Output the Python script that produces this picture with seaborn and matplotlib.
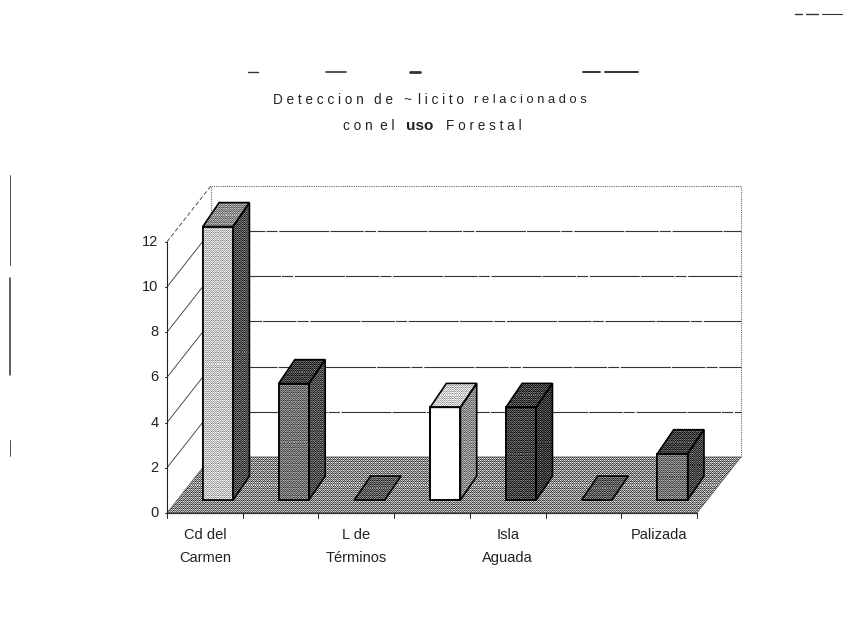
import numpy as np
import pandas as pd
import matplotlib.pyplot as plt
from matplotlib.colors import to_rgb
from matplotlib.patches import Polygon
from matplotlib.lines import Line2D
import seaborn as sns

# Values
positions = [0, 1, 2, 3, 4, 5, 6]
values = [12.1, 5.15, 0, 4.1, 4.1, 0, 2.05]
tick_labels = ['Cd del\nCarmen', '', 'L de\nTérminos', '', 'Isla\nAguada', '', 'Palizada']
y_ticks = [0, 2, 4, 6, 8, 10, 12]

front_colors = ['#c6c6c6', '#747474', '#5c5c5c', '#ffffff', '#444444', '#5c5c5c', '#747474']
side_colors = ['#505050', '#505050', '#5c5c5c', '#8c8c8c', '#383838', '#5c5c5c', '#484848']
top_colors = ['#8c8c8c', '#404040', '#5c5c5c', '#cccccc', '#404040', '#5c5c5c', '#404040']
floor_color = '#8a8a8a'

W, H = 849, 618
sns.set_theme(style='white')
plt.rcParams['font.family'] = ['Liberation Sans', 'DejaVu Sans']

fig = plt.figure(figsize=(W / 100, H / 100), dpi=100)
ax = fig.add_axes([167 / W, (H - 513) / H, 530 / W, 271 / H])

df = pd.DataFrame({'pos': positions, 'value': values})
sns.barplot(data=df, x='pos', y='value', hue='pos', palette=front_colors, width=0.4,
            legend=False, saturation=1, edgecolor='black', linewidth=1.2, ax=ax, zorder=3.5)

# front plane sits below and left of the plane of the bars
x0, x1 = -0.673, 6.323
y0, y1 = -0.575, 11.416
ax.set_xlim(x0, x1)
ax.set_ylim(y0, y1)
ax.set_autoscale_on(False)
sns.despine(ax=ax, left=True, bottom=True)
ax.set_xlabel('')
ax.set_ylabel('')
ax.set_xticks([])
ax.set_yticks([])

# depth of the bars and of the chart box, in data units
bar_dx, bar_dy = 0.215, 1.06
wall_dx, wall_dy = 0.581, 2.48
top_value = 12 + y0 + wall_dy

# ordered dither, the scan shows the greys as halftone
BAYER = np.array([[0, 8, 2, 10], [12, 4, 14, 6], [3, 11, 1, 9], [15, 7, 13, 5]]) / 15 - 0.5


def poly(points, color, lw=1.0, edge='black', z=4, grain=0.5):
    points = np.array(points)
    outline = Polygon(points, closed=True, facecolor='none', edgecolor=edge, linewidth=lw,
                      clip_on=False, zorder=z + 0.1)
    ax.add_patch(outline)
    if color is None:
        return
    level = to_rgb(color)[0]
    px = ax.transData.transform(points)
    nx = int(np.ceil(px[:, 0].max() - px[:, 0].min())) + 1
    ny = int(np.ceil(px[:, 1].max() - px[:, 1].min())) + 1
    tiled = np.tile(BAYER, (ny // 4 + 1, nx // 4 + 1))[:ny, :nx]
    img = np.clip(level + grain * tiled, 0, 1)
    ext = [points[:, 0].min(), points[:, 0].max(), points[:, 1].min(), points[:, 1].max()]
    im = ax.imshow(img, cmap='gray', vmin=0, vmax=1, extent=ext, aspect='auto',
                   interpolation='nearest', origin='lower', zorder=z)
    im.set_clip_box(fig.bbox)
    im.set_clip_path(Polygon(points, closed=True, transform=ax.transData))


def line(xs, ys, lw=0.8, ls='-', color='#222222', z=2):
    ax.plot(xs, ys, lw=lw, ls=ls, color=color, clip_on=False, zorder=z)


# floor
poly([(x0, y0), (x1, y0), (x1 + wall_dx, y0 + wall_dy), (x0 + wall_dx, y0 + wall_dy)],
     floor_color, lw=0.5, edge='#555555', z=1, grain=0.8)

# back wall
dotted = (0, (1, 1))
line([x0 + wall_dx, x1 + wall_dx], [top_value, top_value], lw=0.8, ls=dotted, color='#666666')
line([x0 + wall_dx, x0 + wall_dx], [y0 + wall_dy, top_value], lw=0.8, ls=dotted, color='#666666')
line([x1 + wall_dx, x1 + wall_dx], [y0 + wall_dy, top_value], lw=0.8, ls=dotted, color='#666666')

# grid lines on the wall and the left side
for v in y_ticks:
    y = v + y0
    if 0 < v < 12:
        line([x0 + wall_dx, x1 + wall_dx], [y + wall_dy, y + wall_dy], lw=0.8,
             ls=(v * 7, (30, 1, 10, 1.5, 45, 1)), color='#333333')
    if v > 0:
        style = (0, (5, 3)) if v == 12 else '-'
        line([x0, x0 + wall_dx], [y, y + wall_dy], lw=0.6, ls=style, color='#333333')
    line([x0 - 0.02, x0], [y, y], lw=0.7)
    ax.text(x0 - 0.115, y, str(v), ha='right', va='center', fontsize=10.5, color='#222222', clip_on=False)

# front edges
line([x0, x0], [y0, 12 + y0], lw=0.8)
line([x0, x1], [y0, y0], lw=0.9, color='#333333', z=2)

# x ticks and labels
for i in range(len(positions) + 1):
    xt = x0 + i * (x1 - x0) / len(positions)
    line([xt, xt], [y0 - 0.2, y0], lw=0.7)
for i, lab in enumerate(tick_labels):
    xt = x0 + (i + 0.5) * (x1 - x0) / len(positions)
    ax.text(xt, y0 - 0.66, lab, ha='center', va='top', fontsize=10.5, color='#222222',
            linespacing=1.85, clip_on=False)

# extrude each bar from its seaborn patch
bars = [b for c in ax.containers for b in c]
for b, front, side, top in zip(bars, front_colors, side_colors, top_colors):
    xl, w, h = b.get_x(), b.get_width(), b.get_height()
    xr = xl + w
    b.set_clip_on(False)
    if h > 0:
        # white front stays clean
        poly([(xl, 0), (xr, 0), (xr, h), (xl, h)], None if front == '#ffffff' else front, lw=1.2)
        poly([(xr, 0), (xr + bar_dx, bar_dy), (xr + bar_dx, h + bar_dy), (xr, h)], side, lw=1.2)
    poly([(xl, h), (xr, h), (xr + bar_dx, h + bar_dy), (xl + bar_dx, h + bar_dy)], top, lw=1.2)


def ptext(x, y, s, **kw):
    fig.text(x / W, 1 - y / H, s, ha='left', va='center', fontsize=kw.pop('fontsize', 9.8),
             color='#222222', **kw)


# title pieces, widely spaced as in the scan
ptext(273, 100, 'D e t e c c i o n')
ptext(374, 100, 'd e')
ptext(403, 100, '~')
ptext(418, 100, 'l i c i t o')
ptext(474, 100, 'r e l a c i o n a d o s', fontsize=9.3)
ptext(343, 126, 'c o n  e l')
ptext(406, 126, 'uso', fontweight='bold', fontsize=11)
ptext(446, 126, 'F o r e s t a l')

# scan residue: cut off header, top right corner and left margin
for xa, xb, ya, lw in [(248, 258, 72, 1.0), (326, 346, 72, 1.2), (410, 420, 72, 2.0), (583, 600, 72, 1.4),
                       (605, 638, 72, 1.4), (795, 802, 14, 1.0), (806, 818, 14, 1.0), (822, 842, 14, 0.8)]:
    fig.add_artist(Line2D([xa / W, xb / W], [1 - ya / H, 1 - ya / H], color='#333333', lw=lw))
for xa, ya, yb, lw in [(10, 175, 265, 0.6), (10, 278, 375, 1.1), (10, 440, 456, 0.6)]:
    fig.add_artist(Line2D([xa / W, xa / W], [1 - ya / H, 1 - yb / H], color='#333333', lw=lw))

fig.savefig('out.png', dpi=100)
